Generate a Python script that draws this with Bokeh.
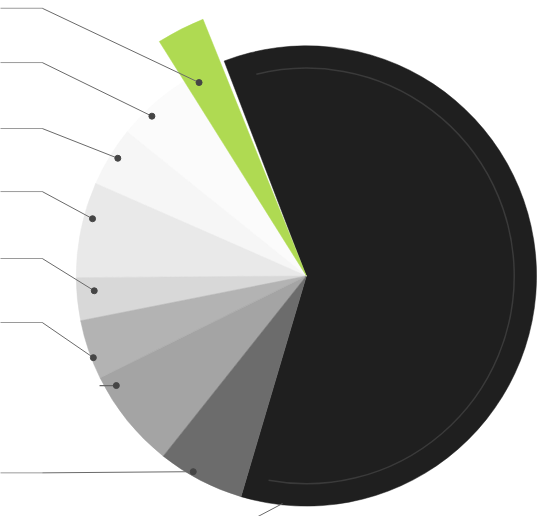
import numpy as np
from bokeh.plotting import figure
from bokeh.models import Range1d, ColumnDataSource
from bokeh.embed import file_html
from bokeh.resources import INLINE

# ---- data (shares in percent) ----
categories = ["S1", "S2", "S3", "S4", "S5", "S6", "S7", "S8", "S9"]
shares = [60.4, 3.1, 5.3, 4.2, 6.7, 3.0, 4.2, 7.0, 6.1]
colors = ["#1f1f1f", "#afda52", "#fbfbfb", "#f6f6f6", "#e9e9e9",
          "#d8d8d8", "#b3b3b3", "#a4a4a4", "#6c6c6c"]

# ---- layout ----
CX, CY = 315.0, -284.0
R = 237.0
START = -106.5  # degrees, where the first slice begins (anticlockwise)

vals = np.array(shares, dtype=float)
spans = vals / vals.sum() * 360.0
ends = START + np.cumsum(spans)
starts = ends - spans

radii = [R] * len(shares)
radii[1] = 285.0  # the highlighted (green) slice sticks out

p = figure(width=538, height=516, x_range=Range1d(0, 554), y_range=Range1d(-532, 0),
           output_backend="svg", toolbar_location=None, min_border=0)
p.axis.visible = False
p.grid.visible = False
p.outline_line_color = None
p.background_fill_color = "white"
p.border_fill_color = "white"

others = [i for i in range(len(shares)) if i != 1]
src = ColumnDataSource(dict(
    x=[CX] * len(others), y=[CY] * len(others),
    r=[radii[i] for i in others],
    s=[np.radians(starts[i]) for i in others],
    e=[np.radians(ends[i]) for i in others],
    c=[colors[i] for i in others]))
p.wedge(x="x", y="y", radius="r", start_angle="s", end_angle="e",
        fill_color="c", line_color="c", line_width=0.5, source=src)

# green slice with a thin white gap to its neighbour
p.wedge(x=[CX], y=[CY], radius=[radii[1]],
        start_angle=[np.radians(starts[1] + 1.0)], end_angle=[np.radians(ends[1])],
        fill_color=colors[1], line_color=colors[1], line_width=0.5)

# inner ridge on the large dark slice
p.arc(x=[CX], y=[CY], radius=[214], start_angle=[np.radians(starts[0] + 6)],
      end_angle=[np.radians(ends[0] - 7)], line_color="#3a3a3a", line_width=1.5)

# ---- connectors (labels themselves lie outside the picture) ----
dot_ang = [119, 134, 148, 165, 184, 201, 210, 240]
dot_rad = [228, 229, 229, 228, 219, 235, 226, 233]
lab_y = [8, 64, 132, 197, 266, 332, None, 487]
dx, dy = [], []
for a, r, ly in zip(dot_ang, dot_rad, lab_y):
    px = CX + r * np.cos(np.radians(a))
    py = CY + r * np.sin(np.radians(a))
    dx.append(px)
    dy.append(py)
    if ly is None:
        p.line([102, px], [py, py], line_color="#666666", line_width=1.2)
    else:
        p.line([-5, 43], [-ly, -ly], line_color="#9a9a9a", line_width=1)
        p.line([43, px], [-ly, py], line_color="#6a6a6a", line_width=1)

# connector of the large slice leaves at the bottom
ba = np.radians(-96)
bx, by = CX + 236 * np.cos(ba), CY + 236 * np.sin(ba)
p.line([bx, 250], [by, -540], line_color="#6a6a6a", line_width=1)

p.scatter(dx, dy, size=6, color="#454545")

open("out.html", "w").write(file_html(p, INLINE))
